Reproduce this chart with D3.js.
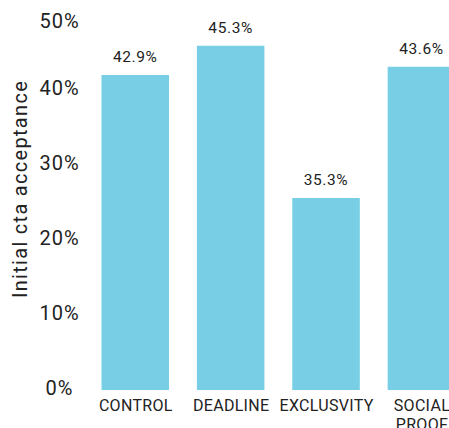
<!DOCTYPE html>
<html>
<head>
<meta charset="utf-8">
<script src="https://cdn.jsdelivr.net/npm/d3@7"></script>
<style>
  html, body { margin: 0; padding: 0; background: #fff; overflow: hidden; }
  svg { display: block; }
</style>
</head>
<body>
<svg id="chart" width="449" height="428"></svg>
<script>
// ---- data ----
const categories = ["CONTROL", "DEADLINE", "EXCLUSVITY", "SOCIAL PROOF"];
const barValues = [0.420, 0.459, 0.256, 0.431];      // bar heights
const labelValues = [0.429, 0.453, 0.353, 0.436];    // printed labels above bars
const yTicks = [0, 0.1, 0.2, 0.3, 0.4, 0.5];
const yTitle = "Initial cta acceptance";

// ---- layout ----
const svg = d3.select("#chart");
const font = "Roboto, 'Noto Sans', sans-serif";
const textColor = "#222";
const barColor = "#78cfe5";

const x = d3.scaleBand()
  .domain(categories)
  .range([101.5, 455.2])
  .paddingInner(0.292)
  .paddingOuter(0);

const y = d3.scaleLinear()
  .domain([0, 0.5])
  .range([390, 15]);

const rows = categories.map((c, i) => ({ c, v: barValues[i], l: labelValues[i] }));

// bars
svg.append("g").selectAll("rect")
  .data(rows)
  .join("rect")
  .attr("x", d => x(d.c))
  .attr("y", d => y(d.v))
  .attr("width", x.bandwidth())
  .attr("height", d => y(0) - y(d.v))
  .attr("fill", barColor);

// value labels
svg.append("g").selectAll("text")
  .data(rows)
  .join("text")
  .attr("x", d => x(d.c) + x.bandwidth() / 2)
  .attr("y", d => y(d.v) - 13)
  .attr("text-anchor", "middle")
  .style("font-family", font)
  .style("font-size", "15.5px")
  .style("letter-spacing", "0.6px")
  .attr("fill", textColor)
  .text(d => d3.format(".1%")(d.l));

// y axis
const yAxis = svg.append("g")
  .attr("transform", "translate(59.5,0)")
  .call(d3.axisLeft(y).tickValues(yTicks).tickFormat(d3.format(".0%")).tickSize(0).tickPadding(0));
yAxis.select(".domain").remove();
yAxis.selectAll(".tick")
  .attr("transform", d => `translate(0,${Math.max(y(d), 23)})`);
yAxis.selectAll(".tick text")
  .attr("x", 0)
  .attr("dy", "0.25em")
  .attr("text-anchor", "middle")
  .attr("fill", textColor)
  .style("font-family", font)
  .style("font-size", "20px")
  .style("letter-spacing", "1px");

// x axis labels
const xAxis = svg.append("g")
  .attr("transform", `translate(0,${y(0)})`)
  .call(d3.axisBottom(x).tickSize(0).tickPadding(0));
xAxis.select(".domain").remove();
xAxis.selectAll(".tick text").each(function(d) {
  const t = d3.select(this);
  const words = d.split(" ");
  t.text(null)
    .attr("y", 0)
    .attr("dy", null)
    .attr("text-anchor", "middle")
    .attr("fill", textColor)
    .style("font-family", font)
    .style("font-size", "16px")
    .style("letter-spacing", "0.3px");
  words.forEach((w, i) => {
    t.append("tspan")
      .attr("x", 0.5)
      .attr("y", 21 + i * 19)
      .text(w);
  });
});

// y title
svg.append("text")
  .attr("transform", `translate(27,${(y(0) + y(0.5)) / 2 - 13.5}) rotate(-90)`)
  .attr("text-anchor", "middle")
  .attr("fill", textColor)
  .style("font-family", font)
  .style("font-size", "20px")
  .style("letter-spacing", "1.3px")
  .text(yTitle);
</script>
</body>
</html>
